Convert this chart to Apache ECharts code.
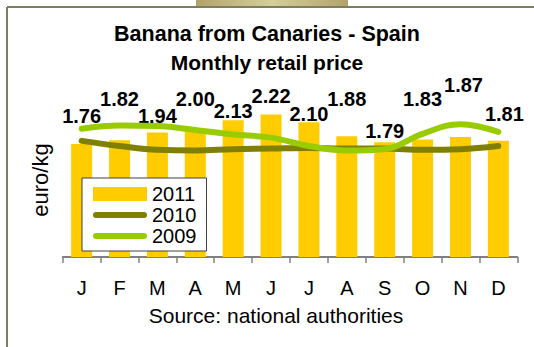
<!DOCTYPE html>
<html>
<head>
<meta charset="utf-8">
<script src="https://cdn.jsdelivr.net/npm/echarts@6/dist/echarts.min.js"></script>
<style>
  html, body { margin: 0; padding: 0; background: #ffffff; }
  #chart { width: 534px; height: 347px; }
</style>
</head>
<body>
<div id="chart"></div>
<script>
// Monthly retail price of Canary Islands bananas, euro/kg
const months = ['J', 'F', 'M', 'A', 'M', 'J', 'J', 'A', 'S', 'O', 'N', 'D'];
const price2011 = [1.76, 1.82, 1.94, 2.00, 2.13, 2.22, 2.10, 1.88, 1.79, 1.83, 1.87, 1.81];
const price2010 = [1.81, 1.73, 1.67, 1.66, 1.68, 1.69, 1.70, 1.69, 1.69, 1.67, 1.68, 1.73];
const price2009 = [2.00, 2.05, 2.04, 1.98, 1.91, 1.86, 1.73, 1.66, 1.68, 1.92, 2.07, 1.95];

// Plot area geometry (pixels) and value range
const GRID = { left: 62.7, right: 16.7, top: 64.5, bottom: 90 };
const Y_MAX = 3;
const CHART_H = 347;

// Staggered placement of the 2011 value labels: vertical centre (px) and horizontal nudge
const labelCenterY = [116, 99, 116, 99, 111, 96, 114, 99, 131, 99, 85, 114];
const labelNudgeX = [0, 0, 0, 0, 0, 0, 0, 0, 0, 0, 3, 6];

const plotH = CHART_H - GRID.top - GRID.bottom;
const barTopY = v => GRID.top + plotH * (1 - v / Y_MAX);

const barData = price2011.map((v, i) => ({
  value: v,
  label: { offset: [labelNudgeX[i], labelCenterY[i] - barTopY(v)] }
}));

const font = 'Liberation Sans, Arial, Helvetica, sans-serif';
// thick rounded stroke used as the legend key of the line series
const lineKey = 'path://M3,0 L51,0 A3,3 0 0 1 51,6 L3,6 A3,3 0 0 1 3,0 Z';

const chart = echarts.init(document.getElementById('chart'), null, { renderer: 'svg' });

chart.setOption({
  animation: false,
  backgroundColor: '#ffffff',
  textStyle: { fontFamily: font },
  title: [
    {
      text: 'Banana from Canaries - Spain',
      subtext: 'Monthly retail price',
      left: 'center',
      top: 18,
      itemGap: 7,
      textStyle: { fontFamily: font, fontSize: 21.5, fontWeight: 'bold', color: '#000000' },
      subtextStyle: { fontFamily: font, fontSize: 21, fontWeight: 'bold', color: '#000000' }
    },
    {
      text: 'Source: national authorities',
      left: 271,
      top: 300,
      textAlign: 'center',
      textStyle: { fontFamily: font, fontSize: 21, fontWeight: 'normal', color: '#000000' }
    }
  ],
  legend: {
    orient: 'vertical',
    left: 82,
    top: 178,
    padding: [6, 10, 5, 11],
    itemWidth: 54,
    itemHeight: 14,
    itemGap: 1,
    symbolKeepAspect: true,
    backgroundColor: '#ffffff',
    borderColor: '#404040',
    borderWidth: 1,
    textStyle: { fontFamily: font, fontSize: 20, color: '#000000', lineHeight: 18 },
    data: [
      { name: '2011', icon: 'rect' },
      { name: '2010', icon: lineKey },
      { name: '2009', icon: lineKey }
    ]
  },
  grid: { left: GRID.left, right: GRID.right, top: GRID.top, bottom: GRID.bottom },
  xAxis: {
    type: 'category',
    data: months,
    boundaryGap: true,
    axisLine: { show: true, lineStyle: { color: '#808080', width: 2 } },
    axisTick: { show: true, length: 6, lineStyle: { color: '#808080', width: 1.5 } },
    axisLabel: { margin: 21, fontSize: 20, color: '#000000', fontFamily: font },
    splitLine: { show: false }
  },
  yAxis: {
    type: 'value',
    min: 0,
    max: Y_MAX,
    axisLine: { show: false },
    axisTick: { show: false },
    axisLabel: { show: false },
    splitLine: { show: false }
  },
  series: [
    {
      name: '2011',
      type: 'bar',
      data: barData,
      barWidth: 21,
      itemStyle: { color: '#ffcc00' },
      label: {
        show: true,
        position: 'top',
        distance: 0,
        verticalAlign: 'middle',
        formatter: p => p.value.toFixed(2),
        fontFamily: font,
        fontSize: 20,
        fontWeight: 'bold',
        color: '#000000'
      },
      z: 1
    },
    {
      name: '2010',
      type: 'line',
      data: price2010,
      smooth: 0.4,
      symbol: 'none',
      lineStyle: { color: '#808000', width: 6, cap: 'round', join: 'round' },
      itemStyle: { color: '#808000' },
      z: 2
    },
    {
      name: '2009',
      type: 'line',
      data: price2009,
      smooth: 0.4,
      symbol: 'none',
      lineStyle: { color: '#99cc00', width: 6, cap: 'round', join: 'round' },
      itemStyle: { color: '#99cc00' },
      z: 3
    }
  ],
  graphic: [
    // value-axis title, rotated to read upwards
    {
      type: 'text',
      x: 40,
      y: 180,
      rotation: Math.PI / 2,
      style: {
        text: 'euro/kg',
        font: '22px "Liberation Sans", Arial, sans-serif',
        fontFamily: font,
        fontSize: 22,
        fill: '#000000',
        align: 'center',
        verticalAlign: 'middle'
      },
      silent: true
    },
    // slide-style frame: top rule, left rule and a tab at the top
    {
      type: 'line',
      shape: { x1: 7, y1: 7, x2: 534, y2: 7 },
      style: { stroke: '#7d7d62', lineWidth: 2 },
      silent: true
    },
    {
      type: 'line',
      shape: { x1: 7, y1: 7, x2: 7, y2: 347 },
      style: { stroke: '#7d7d62', lineWidth: 2 },
      silent: true
    },
    {
      type: 'rect',
      shape: { x: 196, y: 0, width: 152, height: 6 },
      style: {
        fill: new echarts.graphic.LinearGradient(0, 0, 1, 0, [
          { offset: 0, color: '#b2a468' },
          { offset: 0.5, color: '#d4cd9c' },
          { offset: 1, color: '#b2a468' }
        ])
      },
      silent: true
    }
  ]
});
</script>
</body>
</html>
